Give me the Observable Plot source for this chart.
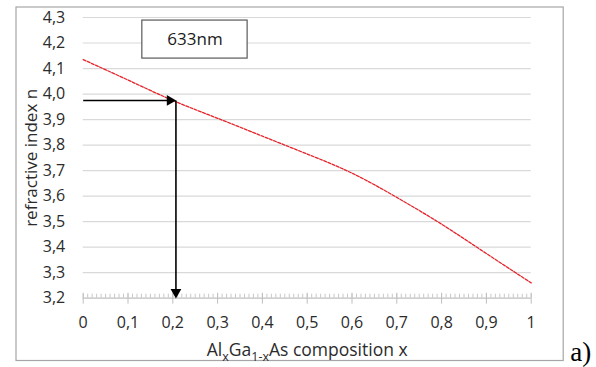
<!DOCTYPE html>
<html><head><meta charset="utf-8">
<script src="https://cdn.jsdelivr.net/npm/d3@7"></script>
<script src="https://cdn.jsdelivr.net/npm/@observablehq/plot@0.6"></script>
<style>body{margin:0;background:#fff} svg{display:block}</style>
</head><body><div id="chart"></div>
<script>
// Data
const composition = [0, 0.1, 0.2, 0.3, 0.4, 0.5, 0.6, 0.7, 0.8, 0.9, 1.0];
const refractiveIndex = [4.135, 4.055, 3.975, 3.905, 3.835, 3.765, 3.69, 3.595, 3.49, 3.375, 3.26];
const yTicks = [3.2, 3.3, 3.4, 3.5, 3.6, 3.7, 3.8, 3.9, 4.0, 4.1, 4.2, 4.3];
const xTicks = [0, 0.1, 0.2, 0.3, 0.4, 0.5, 0.6, 0.7, 0.8, 0.9, 1];
const readOff = [{x: 0.207, n: 3.975}];       // reading at the marked composition
const wavelengthLabel = ["633nm"];
const yLabel = ["refractive index n"];
const xLabel = ["AlxGa1-xAs composition x"];
const panelLabel = ["a)"];

const fmt = d => d.toFixed(1).replace(".", ",");
const xfmt = d => (d === 0 || d === 1) ? String(d) : fmt(d);
const data = composition.map((x, i) => ({x, n: refractiveIndex[i]}));
const minorTicks = d3.range(0, 101).map(i => i / 100);
const yMin = yTicks[0], yMax = yTicks[yTicks.length - 1];

const chart = Plot.plot({
  width: 596, height: 367,
  marginLeft: 82.7, marginRight: 65.3, marginTop: 17, marginBottom: 69.3,
  style: {fontFamily: "'Open Sans', sans-serif", fontSize: "16px", color: "#333", background: "white", overflow: "visible"},
  x: {domain: [0, 1]},
  y: {domain: [yMin, yMax]},
  marks: [
    Plot.frame({stroke: "#a6a6a6", strokeWidth: 1.2, insetLeft: -67.2, insetTop: -10.5, insetRight: -32, insetBottom: -62.3}),
    Plot.gridY(yTicks.filter(d => d > yMin), {stroke: "#d9d9d9", strokeOpacity: 1, strokeWidth: 1.2}),
    Plot.ruleY([yMin], {stroke: "#bfbfbf", strokeWidth: 1.2}),
    Plot.ruleX(minorTicks, {y1: yMin, y2: yMin, insetTop: -4, stroke: "#c8c8c8"}),
    Plot.ruleX(xTicks, {y1: yMin, y2: yMin, insetTop: -5, insetBottom: -6, stroke: "#bfbfbf"}),
    Plot.axisY(yTicks, {tickSize: 0, tickPadding: 18, tickFormat: fmt, label: null, fill: "#2b2b2b", fontSize: 16}),
    Plot.axisX(xTicks, {tickSize: 0, tickPadding: 18.5, tickFormat: xfmt, label: null, fill: "#2b2b2b", fontSize: 16}),
    Plot.line(data, {x: "x", y: "n", stroke: "#e3242b", strokeWidth: 1.3, strokeDasharray: "3,1.5", curve: "natural"}),
    // read-off arrows
    Plot.link(readOff, {x1: 0, y1: "n", x2: d => d.x - 0.012, y2: "n", stroke: "black", strokeWidth: 1.6}),
    Plot.dot(readOff, {x: "x", y: "n", symbol: "triangle", r: 4, rotate: 90, dx: -6, fill: "black", stroke: "none"}),
    Plot.link(readOff, {x1: "x", y1: "n", x2: "x", y2: yMin + 0.03, stroke: "black", strokeWidth: 1.6}),
    Plot.dot(readOff, {x: "x", y: () => yMin, symbol: "triangle", r: 4, rotate: 180, dy: -6, fill: "black", stroke: "none"}),
    // wavelength box
    Plot.rect(wavelengthLabel, {x1: 0.132, x2: 0.367, y1: 4.139, y2: 4.288, fill: "white", stroke: "#595959", strokeWidth: 1.2}),
    Plot.text(wavelengthLabel, {x: 0.2495, y: 4.2135, text: d => d, fontSize: 17, fill: "#1a1a1a"}),
    // axis titles
    Plot.text(yLabel, {frameAnchor: "left", text: d => d, rotate: -90, dx: -45.7, textAnchor: "middle", lineAnchor: "bottom", fontSize: 17, fill: "#2b2b2b"}),
    Plot.text(xLabel, {frameAnchor: "bottom", text: d => d, dy: 58, textAnchor: "middle", lineAnchor: "bottom", fontSize: 17.5, fill: "#2b2b2b"}),
    Plot.text(panelLabel, {frameAnchor: "bottom-right", text: d => d, dx: 39, dy: 63, textAnchor: "start", lineAnchor: "bottom", fontSize: 27, fontFamily: "'Liberation Serif', serif", fill: "black"})
  ]
});

// subscripts in the x-axis title
d3.select(chart).selectAll("text").each(function() {
  if (this.textContent === xLabel[0]) {
    const t = d3.select(this);
    t.text(null);
    const parts = [["Al", 0], ["x", 1], ["Ga", 0], ["1-x", 1], ["As composition x", 0]];
    let shifted = false;
    for (const [s, sub] of parts) {
      const ts = t.append("tspan").text(s);
      if (sub && !shifted) { ts.attr("dy", 5).attr("font-size", 12.5); shifted = true; }
      else if (sub) { ts.attr("font-size", 12.5); }
      else if (shifted) { ts.attr("dy", -5); shifted = false; }
    }
  }
});

document.getElementById("chart").appendChild(chart);
</script>
</body></html>
